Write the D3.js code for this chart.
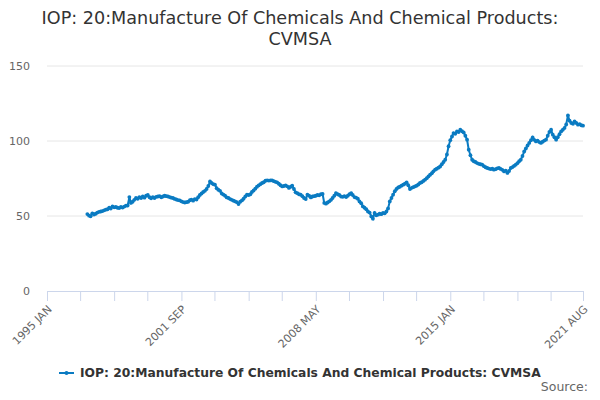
<!DOCTYPE html>
<html>
<head>
<meta charset="utf-8">
<script src="https://cdn.jsdelivr.net/npm/d3@7"></script>
<style>
  body { margin: 0; background: #fff; }
  svg { font-family: "DejaVu Sans", Verdana, sans-serif; }
</style>
</head>
<body>
<svg id="chart" width="600" height="400"></svg>
<script>
const title = ["IOP: 20:Manufacture Of Chemicals And Chemical Products:", "CVMSA"];
const seriesName = "IOP: 20:Manufacture Of Chemicals And Chemical Products: CVMSA";
const startYear = 1997; // data starts January 1997, monthly
const values1997 = [51.3, 50.2, 49.8, 51.8, 51, 51.5, 52.3, 52.8, 53, 53.3, 53.8, 54.2];
const values1998 = [54.5, 55.5, 55, 56.4, 55.8, 56, 55.5, 55.3, 56, 55.6, 56.3, 56.9];
const values1999 = [57, 62.6, 58.7, 59.5, 60.8, 62, 61.5, 62.5, 62, 63, 62.2, 63.5];
const values2000 = [64, 62.5, 61.8, 62.6, 62, 62.8, 63, 63.2, 62.5, 63, 63.5, 63.2];
const values2001 = [63, 62.6, 62.2, 62, 61.4, 61, 60.6, 60.4, 59.8, 59.3, 59, 59.2];
const values2002 = [59.5, 60.5, 60.9, 60.2, 61.3, 61, 62.5, 64, 65, 66, 66.8, 68];
const values2003 = [70, 73, 72, 71.2, 70.9, 68.5, 67.5, 66.8, 65, 64.3, 63.5, 62.4];
const values2004 = [62, 61.3, 60.8, 60.2, 59.7, 59.2, 58, 59.5, 60.4, 61.5, 63, 64.2];
const values2005 = [64, 64.5, 66, 67, 68.2, 69.5, 70.4, 71.2, 72, 72.5, 73.5, 73.8];
const values2006 = [73.6, 73.7, 73.8, 73.2, 72.8, 72.4, 71.5, 70.5, 69.7, 70, 70.4, 69.8];
const values2007 = [68.7, 69.5, 70.2, 68, 65.8, 65.2, 64.5, 64.2, 63.2, 62, 61.3, 64.2];
const values2008 = [63.5, 62.4, 63, 63.2, 63.5, 64, 63.8, 64.5, 64.7, 58.7, 58.2, 59];
const values2009 = [59.8, 60.8, 62, 63.5, 65.3, 64.5, 64, 63, 62.8, 63.2, 62.6, 63.5];
const values2010 = [64.5, 65.3, 64, 62.6, 62.2, 61.5, 59.7, 58.5, 56.4, 55.5, 54.5, 53];
const values2011 = [52.3, 49.7, 48.2, 52, 50.5, 50.9, 51.5, 51.2, 52, 51.8, 53, 55];
const values2012 = [59.7, 62, 64.2, 66.5, 68, 69, 69.5, 70.2, 70.9, 71.5, 72.4, 70.5];
const values2013 = [68, 68.8, 69.2, 69.7, 70.2, 71, 72, 72.5, 73.4, 74.2, 75.2, 76.4];
const values2014 = [77.5, 78.5, 79.8, 80.9, 81.5, 82.2, 83, 84.5, 86, 87.5, 91, 96.5];
const values2015 = [100.5, 103, 105.3, 104.8, 106.4, 106, 107.5, 106.5, 105.7, 103.5, 100.9, 94.2];
const values2016 = [90.5, 87.5, 86.5, 86, 85.3, 84.8, 84.5, 84.2, 83.2, 82.5, 82, 81.6];
const values2017 = [81.3, 81.5, 80.9, 81.2, 81.8, 82, 81.4, 80.8, 79.7, 80.3, 78.7, 80];
const values2018 = [82, 82.6, 83.4, 84.2, 85.2, 86.5, 87.5, 90, 93, 95, 97, 98.7];
const values2019 = [100.5, 102.4, 100.8, 99.7, 100.2, 99.3, 98.7, 99.5, 100.3, 100.9, 103.5, 106];
const values2020 = [107.5, 104.2, 102.5, 100.9, 102.5, 104.5, 106.4, 107.5, 108.7, 111, 117, 113.5];
const values2021 = [112, 111.5, 113, 112, 110.9, 111.2, 110.5, 110.2];
const yTicks = [0, 50, 100, 150];
const xTickLabels = ["1995 JAN", "2001 SEP", "2008 MAY", "2015 JAN", "2021 AUG"];

const allValues = [].concat(values1997, values1998, values1999, values2000, values2001,
  values2002, values2003, values2004, values2005, values2006, values2007, values2008,
  values2009, values2010, values2011, values2012, values2013, values2014, values2015,
  values2016, values2017, values2018, values2019, values2020, values2021);
const data = allValues.map((v, i) => ({ date: new Date(startYear, i, 1), value: v }));

const svg = d3.select("#chart");
const plotLeft = 47, plotRight = 583, plotTop = 66, plotBottom = 291;

const x = d3.scaleTime()
  .domain([new Date(1995, 0, 1), new Date(2021, 7, 1)])
  .range([plotLeft, plotRight]);
const y = d3.scaleLinear().domain([0, 150]).range([plotBottom, plotTop]);

// title
svg.append("text")
  .attr("x", 300).attr("y", 24)
  .attr("text-anchor", "middle")
  .attr("fill", "#333").style("font-size", "17.6px")
  .selectAll("tspan").data(title).enter().append("tspan")
  .attr("x", 300).attr("dy", (d, i) => i === 0 ? 0 : 21)
  .text(d => d);

// grid
svg.append("g").selectAll("line").data(yTicks.filter(t => t > 0)).enter().append("line")
  .attr("x1", plotLeft).attr("x2", plotRight)
  .attr("y1", d => y(d)).attr("y2", d => y(d))
  .attr("stroke", "#e6e6e6");

// y labels
svg.append("g").selectAll("text").data(yTicks).enter().append("text")
  .attr("x", 30).attr("y", d => y(d) + 4)
  .attr("text-anchor", "end")
  .attr("fill", "#666").style("font-size", "11px")
  .text(d => d);

// x axis: ticks every 40 months, labels every 80
const tickDates = d3.range(0, 9).map(i => new Date(1995, i * 40, 1));
tickDates[8] = new Date(2021, 7, 1);
const xAxis = d3.axisBottom(x)
  .tickValues(tickDates)
  .tickSize(10)
  .tickFormat((d, i) => i % 2 === 0 ? xTickLabels[i / 2] : "");
const gx = svg.append("g")
  .attr("transform", `translate(0,${plotBottom})`)
  .call(xAxis);
gx.select(".domain").attr("stroke", "#ccd6eb");
gx.selectAll(".tick line").attr("stroke", "#ccd6eb");
gx.selectAll(".tick text")
  .attr("fill", "#666").style("font-size", "11px")
  .style("font-family", "DejaVu Sans, sans-serif")
  .attr("text-anchor", "end")
  .attr("x", 0).attr("y", 0).attr("dy", 0)
  .attr("transform", "translate(5,19) rotate(-45)");

// minor ticks in between
const minor = d3.range(0, 16).map(i => new Date(1995, i * 20, 1)).filter((d, i) => i % 2 === 1);
svg.append("g").selectAll("line").data(minor).enter().append("line")
  .attr("x1", d => x(d)).attr("x2", d => x(d))
  .attr("y1", plotBottom).attr("y2", plotBottom + 10)
  .attr("stroke", "#ccd6eb");

const color = "#0a7bc2";
const line = d3.line().x(d => x(d.date)).y(d => y(d.value));
svg.append("path").datum(data)
  .attr("fill", "none").attr("stroke", color).attr("stroke-width", 2)
  .attr("d", line);
svg.append("g").selectAll("circle").data(data).enter().append("circle")
  .attr("cx", d => x(d.date)).attr("cy", d => y(d.value))
  .attr("r", 1.9).attr("fill", color);

// legend
const lg = svg.append("g");
lg.append("line").attr("x1", 59).attr("x2", 74).attr("y1", 373).attr("y2", 373)
  .attr("stroke", color).attr("stroke-width", 2);
lg.append("circle").attr("cx", 66.5).attr("cy", 373).attr("r", 2).attr("fill", color);
lg.append("text").attr("x", 80).attr("y", 377)
  .attr("fill", "#333").style("font-size", "12.3px").style("font-weight", "bold")
  .text(seriesName);

svg.append("text").attr("x", 588).attr("y", 391)
  .attr("text-anchor", "end").attr("fill", "#666").style("font-size", "12.5px")
  .text("Source:");
</script>
</body>
</html>
